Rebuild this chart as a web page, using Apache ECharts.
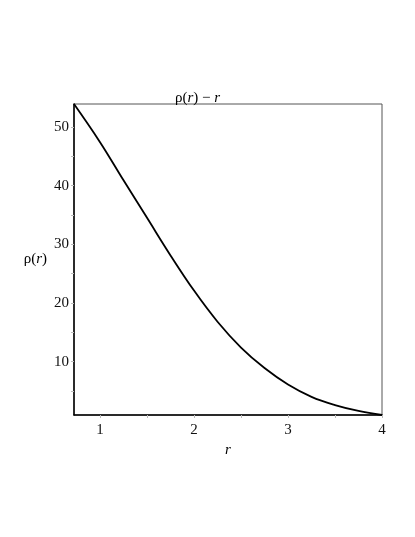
<!DOCTYPE html>
<html>
<head>
<meta charset="UTF-8">
<title>rho(r) - r</title>
<style type="text/css">
html, body {
	margin: 0;
	padding: 0;
	background: #fff;
}
#main {
	width: 415px;
	height: 537px;
}
</style>
</head>
<body>
	<div id="main"></div>
<script type="text/javascript" src="https://cdn.jsdelivr.net/npm/echarts@6/dist/echarts.min.js"></script>
<script type="text/javascript">
	// values
	var rValues = [ 0.723, 1.0, 1.25, 1.5, 1.75, 2.0, 2.25, 2.5, 2.75, 3.0, 3.25, 3.5, 3.75, 4.0 ];
	var rhoValues = [ 53.9, 47.4, 40.9, 34.5, 28.1, 22.1, 16.8, 12.4, 8.9, 6.1, 4.0, 2.6, 1.6, 0.9 ];
	var xLabels = [ 1, 2, 3, 4 ];
	var xTicks = [ 1, 1.5, 2, 2.5, 3, 3.5, 4 ];
	var yLabels = [ 10, 20, 30, 40, 50 ];
	var yTicks = [ 5, 10, 15, 20, 25, 30, 35, 40, 45, 50 ];

	var serif = 'Liberation Serif';
	var richText = {
		n : { fontFamily : serif, fontSize : 15, fontWeight : 'normal', color : '#000' },
		i : { fontFamily : serif, fontSize : 15, fontWeight : 'normal', fontStyle : 'italic', color : '#000' }
	};

	var lineData = [];
	for (var k = 0; k < rValues.length; k++) {
		lineData.push([ rValues[k], rhoValues[k] ]);
	}

	var chart = echarts.init(document.getElementById('main'));
	var option = {
		animation : false,
		backgroundColor : '#fff',
		title : {
			text : '{n|ρ(}{i|r}{n|) − }{i|r}',
			left : 170,
			top : 86,
			textStyle : { fontWeight : 'normal', rich : richText }
		},
		grid : {
			left : 74,
			top : 104,
			right : 33,
			bottom : 122,
			show : true,
			borderColor : '#555',
			borderWidth : 1
		},
		xAxis : {
			type : 'value',
			min : 0.723,
			max : 4,
			name : '{i|r}',
			nameLocation : 'middle',
			nameGap : 14,
			nameTextStyle : { rich : richText },
			splitLine : { show : false },
			axisLine : { lineStyle : { color : '#000', width : 1.5 } },
			axisTick : { customValues : xTicks, length : 3, lineStyle : { color : '#bbb' } },
			axisLabel : {
				customValues : xLabels,
				fontFamily : serif,
				fontSize : 15,
				color : '#111',
				margin : 8
			}
		},
		yAxis : {
			type : 'value',
			min : 0.9,
			max : 53.9,
			name : '{n|ρ(}{i|r}{n|)}',
			nameLocation : 'middle',
			nameRotate : 0,
			nameGap : 27,
			nameTextStyle : { rich : richText, align : 'right' },
			splitLine : { show : false },
			axisLine : { lineStyle : { color : '#000', width : 1.5 } },
			axisTick : { customValues : yTicks, length : 3, lineStyle : { color : '#bbb' } },
			axisLabel : {
				customValues : yLabels,
				fontFamily : serif,
				fontSize : 15,
				color : '#111',
				margin : 5
			}
		},
		series : [ {
			type : 'line',
			data : lineData,
			smooth : 0.4,
			showSymbol : false,
			lineStyle : { color : '#000', width : 1.8 }
		} ]
	};
	chart.setOption(option);
</script>
</body>
</html>
